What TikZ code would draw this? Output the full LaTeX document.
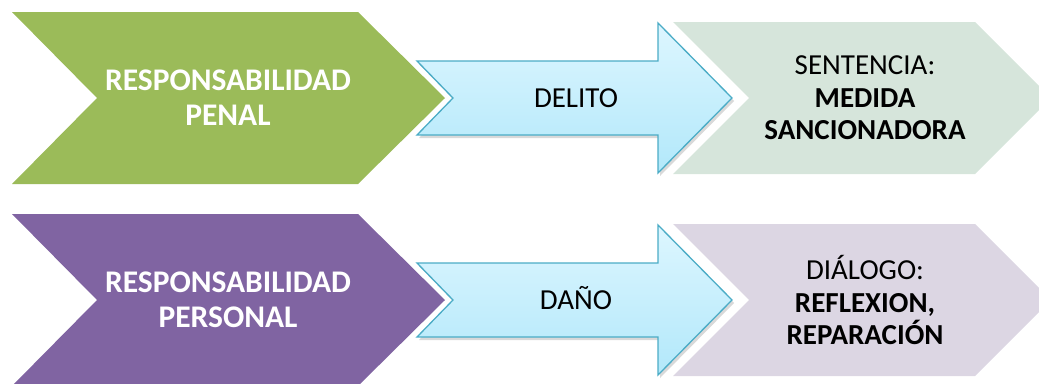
\documentclass[tikz,border=0pt]{standalone}
\usepackage{fontspec}
\setmainfont{Carlito}
\usepackage{tikz}
\usetikzlibrary{shadows}
\definecolor{olive}   {HTML}{9BBB59}
\definecolor{plum}    {HTML}{8064A2}
\definecolor{mintgrey}{HTML}{D6E5DB}
\definecolor{lilac}   {HTML}{DCD6E3}
\definecolor{skytop}  {HTML}{DDF6FF}
\definecolor{skybot}  {HTML}{B2E8FA}
\definecolor{aqua}    {HTML}{4BACC6}
\newcommand{\bigsz}{\fontsize{31.5}{35}\selectfont}
\newcommand{\midsz}{\fontsize{29}{32.5}\selectfont}

\begin{document}
\begin{tikzpicture}[x=1pt, y=-1pt]
  \useasboundingbox (0,0) rectangle (1039,383);
  \foreach \r/\m/\dark/\pale/\labL/\labM/\labR in {
     1/98/olive/mintgrey/{RESPONSABILIDAD\\PENAL}/{DELITO}/{SENTENCIA:\\\textbf{MEDIDA}\\\textbf{SANCIONADORA}},
     2/300/plum/lilac/{RESPONSABILIDAD\\PERSONAL}/{DAÑO}/{DIÁLOGO:\\\textbf{REFLEXION,}\\\textbf{REPARACIÓN}}} {
    \fill[\dark] (12,\m-86) -- (358,\m-86) -- (445,\m) -- (358,\m+86)
                 -- (12,\m+86) -- (97,\m) -- cycle;
    \fill[\pale] (673,\m-76) -- (975,\m-76) -- (1051,\m) -- (975,\m+76)
                 -- (673,\m+76) -- (749,\m) -- cycle;
    \draw[aqua, line width=1.3pt, top color=skytop, bottom color=skybot,
          drop shadow={shadow xshift=2pt, shadow yshift=-3pt, opacity=.3}]
          (417,\m-37) -- (658,\m-37) -- (658,\m-75) -- (732,\m)
          -- (658,\m+75) -- (658,\m+37) -- (417,\m+37) -- (453,\m) -- cycle;
    \node[text=white, font=\bigsz\bfseries, align=center]
          (resp\r) at (228,\m) {\labL};
    \node[font=\midsz, anchor=base] (act\r) at (576,\m+9) {\labM};
    \node[font=\midsz, align=center] (out\r) at (865,\m) {\labR};
  }
\end{tikzpicture}
\end{document}
